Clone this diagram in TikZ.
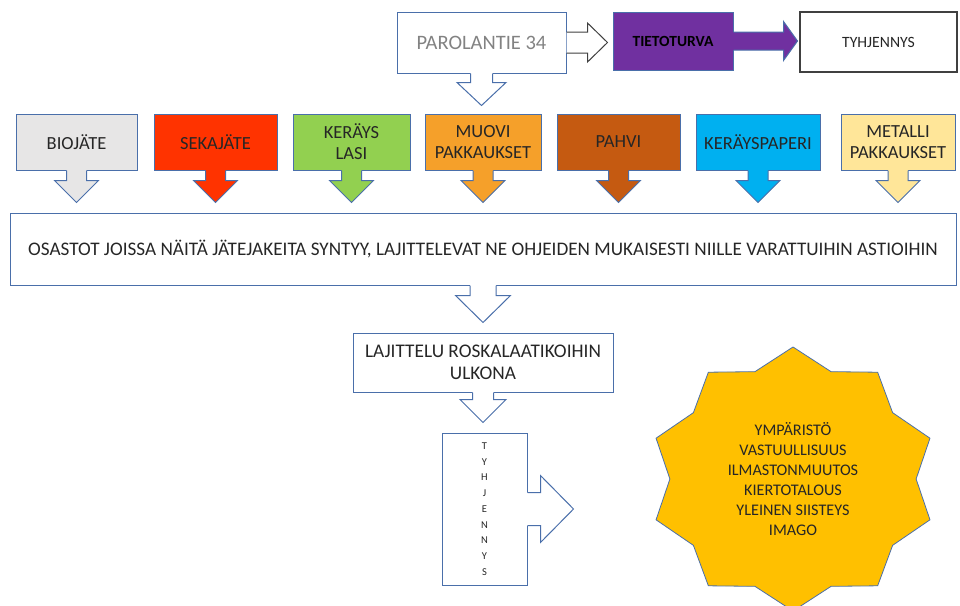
\documentclass[tikz,border=0pt]{standalone}
\usepackage{fontspec}
\setmainfont{Carlito}

\definecolor{edge}{RGB}{74,111,170}
\definecolor{ink}{RGB}{38,38,38}
\definecolor{biojate}{HTML}{E7E6E6}
\definecolor{sekajate}{HTML}{FF3300}
\definecolor{lasic}{HTML}{92D050}
\definecolor{muovic}{HTML}{F5A02A}
\definecolor{pahvic}{HTML}{C55A11}
\definecolor{paperic}{HTML}{00B0F0}
\definecolor{metallic}{HTML}{FFE699}
\definecolor{turvac}{HTML}{7030A0}
\definecolor{tahti}{HTML}{FFC000}

\begin{document}
\begin{tikzpicture}[x=1pt, y=-1pt,
    box/.style={rectangle, draw=edge, line width=1pt, inner sep=2pt,
      align=center, text=ink, font=\fontsize{18.5}{21}\selectfont},
    tail/.style={draw=edge, line width=1pt}]
  \useasboundingbox (0,0) rectangle (960,605);

  % top row
  \node [box, minimum width=169pt, minimum height=61pt,
    text={rgb,255:red,130;green,130;blue,130},
    font=\fontsize{20.5}{24}\selectfont] (parola) at (481.5,42.5) {PAROLANTIE 34};
  \node [box, fill=turvac, minimum width=120pt, minimum height=58pt, text=black,
    font=\bfseries\fontsize{15.5}{18}\selectfont] (turva) at (673,41) {TIETOTURVA};
  \node [box, draw=black!75, line width=1.5pt, minimum width=157pt,
    minimum height=60pt, font=\fontsize{15.7}{18}\selectfont] (tyhj) at (878.5,42) {TYHJENNYS};
  \draw [draw=black!75, line width=1pt, fill=white] ([yshift=10.5pt]parola.east)
    -- ++(21,0) -- ++(0,-9) -- ++(20,19.5) -- ++(-20,19.5) -- ++(0,-9) -- ++(-21,0);

  % waste fractions
  \foreach \n/\x/\w/\c/\t in {bio/76.5/121/biojate/BIOJÄTE,
      seka/215.5/123/sekajate/SEKAJÄTE, lasi/351.5/117/lasic/{KERÄYS\\LASI},
      muovi/483/116/muovic/{MUOVI\\PAKKAUKSET}, pahvi/618.5/123/pahvic/PAHVI,
      paperi/758/124/paperic/KERÄYSPAPERI,
      metalli/898/114/metallic/{METALLI\\PAKKAUKSET}} {
    \node [box, fill=\c, minimum width=\w pt, minimum height=56pt] (\n) at (\x,142) {\t};
  }

  \node [box, minimum width=946pt, minimum height=72pt,
    font=\fontsize{19.2}{22}\selectfont] (osastot) at (483,249)
    {OSASTOT JOISSA NÄITÄ JÄTEJAKEITA SYNTYY, LAJITTELEVAT NE OHJEIDEN MUKAISESTI NIILLE VARATTUIHIN ASTIOIHIN};
  \node [box, minimum width=260pt, minimum height=59pt,
    font=\fontsize{19.3}{22}\selectfont] (lajittelu) at (483,362.5)
    {LAJITTELU ROSKALAATIKOIHIN\\ULKONA};
  \node [box, minimum width=85pt, minimum height=152pt,
    font=\fontsize{10.5}{15.75}\selectfont] (tyhj2) at (484.5,509)
    {T\\Y\\H\\J\\E\\N\\N\\Y\\S};

  % downward callout tails
  \foreach \n/\c/\s/\l/\h/\k in {bio/biojate/10/10/22/22,
      seka/sekajate/10/10/22/22, lasi/lasic/10/10/22/22,
      muovi/muovic/10/10/22/22, pahvi/pahvic/10/10/22/22,
      paperi/paperic/10/10/22/22, metalli/metallic/10/10/22/22,
      parola/white/11/9/24.5/23, osastot/white/13/10/27.5/27,
      lajittelu/white/10.5/7/23/23} {
    \fill [\c] ([xshift=-\s pt, yshift=1pt]\n.south) -- ++(0,\l+1) -- ++(\s-\h,0)
      -- ++(\h,\k) -- ++(\h,-\k) -- ++(\s-\h,0) -- ++(0,-\l-1) -- cycle;
    \draw [tail] ([xshift=-\s pt]\n.south) -- ++(0,\l) -- ++(\s-\h,0)
      -- ++(\h,\k) -- ++(\h,-\k) -- ++(\s-\h,0) -- ++(0,-\l);
  }

  % rightward callout tails
  \foreach \n/\c/\s/\l/\h/\k in {turva/turvac/9/50/19.5/14, tyhj2/white/16.5/13/33.5/33} {
    \fill [\c] ([xshift=-1pt, yshift=\s pt]\n.east) -- ++(\l+1,0) -- ++(0,\s-\h)
      -- ++(\k,\h) -- ++(-\k,\h) -- ++(0,\s-\h) -- ++(-\l-1,0) -- cycle;
    \draw [tail] ([yshift=\s pt]\n.east) -- ++(\l,0) -- ++(0,\s-\h)
      -- ++(\k,\h) -- ++(-\k,\h) -- ++(0,\s-\h) -- ++(-\l,0);
  }

  % star, a little wider than high
  \coordinate (goal) at (793,479);
  \draw [draw=edge, line width=0.8pt, fill=tahti, shift={(goal)}] (90:144 and 132)
    \foreach \i in {1,...,19} {
      -- ({90+18*\i}:{144*(1-0.145*mod(\i,2))} and {132*(1-0.145*mod(\i,2))})
    } -- cycle;
  \node [align=center, text=ink, font=\fontsize{16.2}{20}\selectfont] (goaltext) at (goal)
    {YMPÄRISTÖ\\VASTUULLISUUS\\ILMASTONMUUTOS\\KIERTOTALOUS\\YLEINEN SIISTEYS\\IMAGO};
\end{tikzpicture}
\end{document}
